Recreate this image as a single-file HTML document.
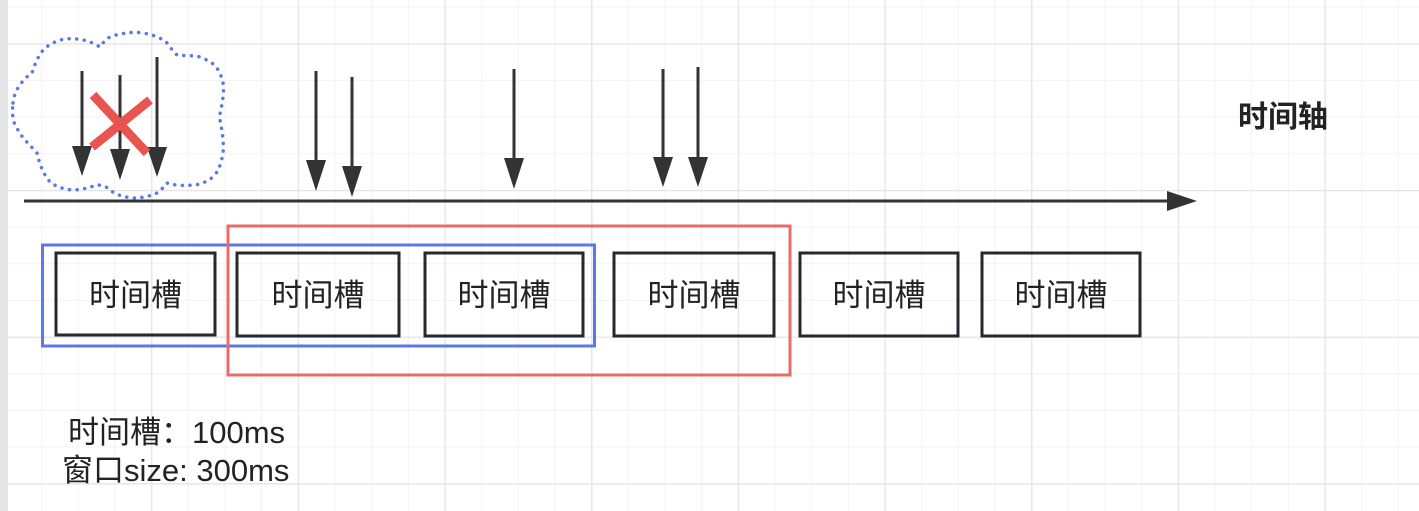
<!DOCTYPE html>
<html><head><meta charset="utf-8"><style>
html,body{margin:0;padding:0;background:#fff;}
svg{display:block;}
text{font-family:"Liberation Sans","Noto Sans CJK SC",sans-serif;fill:#222;}
</style></head><body>
<svg width="1419" height="511" viewBox="0 0 1419 511" xmlns="http://www.w3.org/2000/svg">
<defs>
<pattern id="minor" x="4.5" y="6.6" width="36.67" height="36.67" patternUnits="userSpaceOnUse">
<path d="M0 0V36.67M0 0H36.67" stroke="#efefef" stroke-width="1.5" fill="none"/>
</pattern>
<pattern id="major" x="4.5" y="43.3" width="146.67" height="146.67" patternUnits="userSpaceOnUse">
<path d="M0 0V146.67M0 0H146.67" stroke="#e4e4e4" stroke-width="2.5" fill="none"/>
</pattern>
</defs>
<rect width="1419" height="511" fill="#fff"/>
<rect width="1419" height="511" fill="url(#minor)"/>
<rect width="1419" height="511" fill="url(#major)"/>
<rect x="0" y="0" width="8" height="511" fill="#e6e6e8"/>

<path d="M13 103 C14 90 24 78 32 73 C36 60 42 48 50 45 C58 39 68 38 77 39 C88 40 95 44 100 47 C106 38 112 35 117 35 C128 32 136 32 143 33 C155 35 163 39 167 43 C172 50 175 53 177 55 C185 56 193 55 200 57 C210 61 216 65 218 70 C224 80 224 88 223 97 C222 108 219 113 220 120 C222 130 224 142 223 153 C221 165 218 172 213 177 C205 183 198 185 193 185 C182 186 172 185 167 183 C163 188 160 191 157 193 C148 197 140 198 133 198 C122 197 115 194 110 190 C106 186 101 185 97 185 C88 188 80 190 73 190 C62 189 55 186 50 182 C42 172 39 162 37 153 C30 145 22 138 18 130 C12 122 12 112 13 103 Z" fill="none" stroke="#5b78e5" stroke-width="3.5" stroke-dasharray="0.1 7.5" stroke-linecap="round"/>

<line x1="24" y1="201" x2="1172" y2="201" stroke="#333" stroke-width="3"/>
<polygon points="1167,191 1197,201 1167,211" fill="#333"/>

<g stroke="#333" stroke-width="3" fill="#333">
<line x1="82" y1="71" x2="82" y2="150"/><polygon points="72,146 92,146 82,176" stroke="none"/>
<line x1="120" y1="75" x2="120" y2="152"/><polygon points="110,149 130,149 120,180" stroke="none"/>
<line x1="157" y1="57" x2="157" y2="150"/><polygon points="147,147 167,147 157,177" stroke="none"/>
<line x1="316" y1="71" x2="316" y2="163"/><polygon points="306,160 326,160 316,191" stroke="none"/>
<line x1="352" y1="77" x2="352" y2="169"/><polygon points="342,166 362,166 352,197" stroke="none"/>
<line x1="514" y1="69" x2="514" y2="161"/><polygon points="504,158 524,158 514,189" stroke="none"/>
<line x1="663" y1="69" x2="663" y2="160"/><polygon points="653,157 673,157 663,187" stroke="none"/>
<line x1="698" y1="67" x2="698" y2="160"/><polygon points="688,157 708,157 698,187" stroke="none"/>
</g>

<g stroke="#e85450" stroke-width="9">
<line x1="93" y1="95" x2="147" y2="153"/>
<line x1="150" y1="100" x2="92" y2="147"/>
</g>

<rect x="42.5" y="245" width="552" height="101" fill="none" stroke="#5b78e5" stroke-width="3"/>
<rect x="228" y="226" width="562" height="149" fill="none" stroke="#ea6b6b" stroke-width="3"/>

<g fill="none" stroke="#222a30" stroke-width="3">
<rect x="56" y="253" width="159" height="82"/>
<rect x="237" y="253" width="162" height="83"/>
<rect x="425" y="253" width="158" height="83"/>
<rect x="614" y="253" width="160" height="83"/>
<rect x="800" y="253" width="158" height="83"/>
<rect x="982" y="253" width="158" height="83"/>
</g>
<g font-size="31" text-anchor="middle">
<text x="135.5" y="306">时间槽</text>
<text x="318" y="306">时间槽</text>
<text x="504" y="306">时间槽</text>
<text x="694" y="306">时间槽</text>
<text x="879" y="306">时间槽</text>
<text x="1061" y="306">时间槽</text>
</g>
<text x="1238" y="127" font-size="30" font-weight="bold">时间轴</text>
<text x="68" y="443" font-size="31">时间槽：100ms</text>
<text x="62" y="481" font-size="31">窗口size: 300ms</text>
</svg>
</body></html>
